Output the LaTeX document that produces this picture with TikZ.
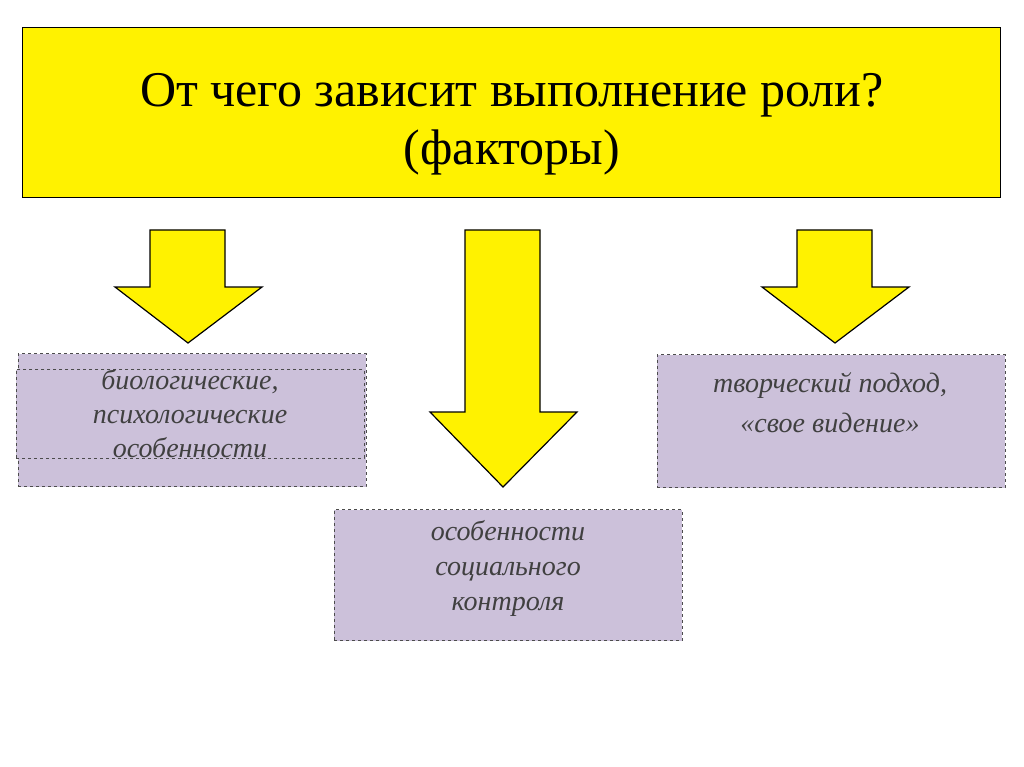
\documentclass[tikz,border=0pt]{standalone}
\usepackage{fontspec}
\setmainfont{Liberation Serif}
\begin{document}
\begin{tikzpicture}[x=1pt,y=-1pt,
  bigarrow/.style={fill=yellow,draw=black,line width=1.2pt,line join=miter},
  factor/.style={fill=lavender,draw=black!70,dashed,line width=0.8pt,minimum width=348pt,inner sep=0pt,align=center,font=\fontsize{28}{34}\selectfont\itshape,text=black!75}]
\definecolor{lavender}{HTML}{CCC1DA}
\useasboundingbox[fill=white] (0,0) rectangle (1024,767);
\node[fill=yellow,draw=black,line width=0.8pt,minimum width=978pt,minimum height=170pt,inner sep=0pt] (title) at (511,112) {};
\node[font=\fontsize{50}{60}\selectfont,align=center] (t1) at (512,95) {От чего зависит выполнение роли?};
\node[font=\fontsize{50}{60}\selectfont] (t2) at (512,152) {(факторы)};
\draw[bigarrow] (150,230)--(225,230)--(225,287)--(262,287)--(188,343)--(115,287)--(150,287)--cycle;
\draw[bigarrow] (465,230)--(540,230)--(540,412)--(577,412)--(503,487)--(430,412)--(465,412)--cycle;
\draw[bigarrow] (797,230)--(872,230)--(872,287)--(909,287)--(835,343)--(762,287)--(797,287)--cycle;
\node[factor,minimum height=133pt] (b1) at (192,420) {};
\node[factor,align=center,font=\fontsize{28}{34}\selectfont\itshape,text=black!75] (b1t) at (190,414) {биологические,\\психологические\\особенности};
\node[factor,minimum height=131pt] (b2) at (508,575) {};
\node[font=\fontsize{28}{35}\selectfont\itshape,text=black!75,align=center] (b2t) at (508,568) {особенности\\социального\\контроля};
\node[factor,minimum height=133pt] (b3) at (831,421) {};
\node[font=\fontsize{28}{40}\selectfont\itshape,text=black!75,align=center] (b3t) at (830,403) {творческий подход,\\«свое видение»};
\end{tikzpicture}
\end{document}
